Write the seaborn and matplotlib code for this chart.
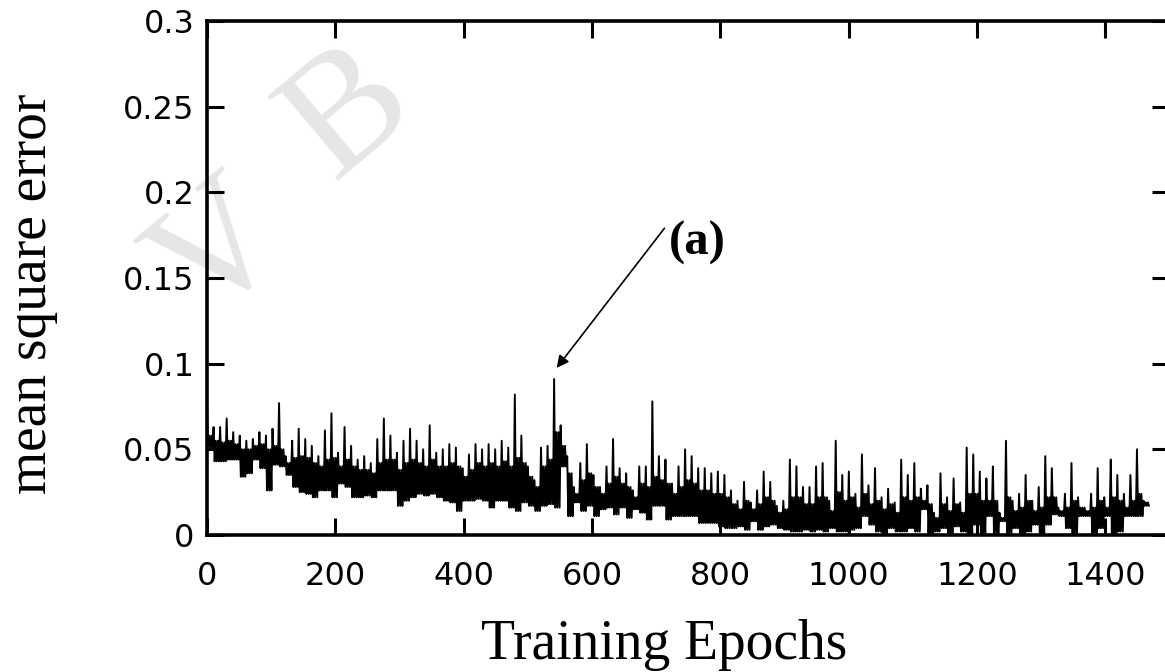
import numpy as np
import pandas as pd
import matplotlib
matplotlib.use("Agg")
import matplotlib.pyplot as plt
import seaborn as sns

# noisy MSE trace, one group per ~10 epochs:
# spike top, top of the dense band, bottom of the band
mse_high = [0.075, 0.063, 0.063, 0.068, 0.060, 0.058, 0.055, 0.056, 0.060, 0.058,
            0.062, 0.077, 0.046, 0.055, 0.062, 0.056, 0.052, 0.046, 0.061, 0.071,
            0.048, 0.063, 0.052, 0.044, 0.046, 0.042, 0.056, 0.068, 0.058, 0.048,
            0.055, 0.062, 0.055, 0.050, 0.064, 0.048, 0.050, 0.053, 0.051, 0.039,
            0.047, 0.053, 0.050, 0.053, 0.050, 0.055, 0.051, 0.082, 0.058, 0.040,
            0.032, 0.051, 0.052, 0.091, 0.064, 0.046, 0.028, 0.042, 0.053, 0.035,
            0.028, 0.040, 0.056, 0.039, 0.036, 0.026, 0.040, 0.040, 0.078, 0.046,
            0.044, 0.030, 0.040, 0.050, 0.046, 0.039, 0.039, 0.036, 0.037, 0.035,
            0.026, 0.020, 0.031, 0.019, 0.026, 0.037, 0.031, 0.017, 0.020, 0.044,
            0.040, 0.028, 0.028, 0.040, 0.042, 0.020, 0.055, 0.035, 0.037, 0.024,
            0.047, 0.029, 0.039, 0.022, 0.027, 0.019, 0.044, 0.035, 0.042, 0.027,
            0.029, 0.013, 0.036, 0.022, 0.033, 0.019, 0.051, 0.047, 0.037, 0.033,
            0.040, 0.013, 0.055, 0.020, 0.024, 0.035, 0.020, 0.028, 0.046, 0.039,
            0.016, 0.024, 0.042, 0.022, 0.016, 0.024, 0.039, 0.022, 0.044, 0.035,
            0.024, 0.035, 0.050, 0.020]
mse_band = [0.058, 0.055, 0.054, 0.055, 0.053, 0.050, 0.050, 0.052, 0.053, 0.050,
            0.052, 0.050, 0.042, 0.045, 0.046, 0.045, 0.042, 0.040, 0.044, 0.045,
            0.040, 0.044, 0.040, 0.038, 0.038, 0.036, 0.042, 0.044, 0.044, 0.038,
            0.042, 0.044, 0.042, 0.040, 0.044, 0.040, 0.040, 0.042, 0.040, 0.034,
            0.038, 0.042, 0.040, 0.042, 0.040, 0.043, 0.040, 0.045, 0.042, 0.034,
            0.028, 0.040, 0.044, 0.060, 0.052, 0.036, 0.024, 0.032, 0.036, 0.028,
            0.024, 0.030, 0.034, 0.030, 0.028, 0.022, 0.030, 0.028, 0.034, 0.032,
            0.030, 0.024, 0.028, 0.032, 0.030, 0.026, 0.026, 0.024, 0.024, 0.022,
            0.018, 0.015, 0.020, 0.015, 0.018, 0.022, 0.020, 0.013, 0.015, 0.022,
            0.022, 0.018, 0.018, 0.022, 0.022, 0.014, 0.025, 0.020, 0.022, 0.016,
            0.024, 0.018, 0.020, 0.015, 0.018, 0.013, 0.022, 0.020, 0.022, 0.020,
            0.018, 0.010, 0.018, 0.014, 0.018, 0.013, 0.024, 0.024, 0.020, 0.020,
            0.020, 0.010, 0.022, 0.014, 0.016, 0.020, 0.014, 0.016, 0.022, 0.022,
            0.014, 0.016, 0.020, 0.016, 0.014, 0.016, 0.020, 0.016, 0.022, 0.020,
            0.016, 0.020, 0.024, 0.019]
mse_low = [0.051, 0.043, 0.043, 0.044, 0.044, 0.034, 0.036, 0.044, 0.039, 0.026,
           0.041, 0.040, 0.035, 0.028, 0.025, 0.024, 0.022, 0.026, 0.026, 0.022,
           0.030, 0.028, 0.022, 0.022, 0.023, 0.022, 0.026, 0.026, 0.026, 0.017,
           0.020, 0.022, 0.024, 0.023, 0.024, 0.022, 0.020, 0.019, 0.014, 0.020,
           0.020, 0.021, 0.020, 0.016, 0.020, 0.020, 0.016, 0.014, 0.019, 0.017,
           0.014, 0.017, 0.018, 0.016, 0.040, 0.011, 0.019, 0.014, 0.017, 0.011,
           0.015, 0.016, 0.012, 0.016, 0.010, 0.015, 0.013, 0.009, 0.017, 0.017,
           0.009, 0.011, 0.011, 0.011, 0.011, 0.007, 0.007, 0.007, 0.005, 0.004,
           0.004, 0.005, 0.003, 0.008, 0.003, 0.005, 0.006, 0.004, 0.003, 0.002,
           0.002, 0.003, 0.002, 0.003, 0.002, 0.004, 0.002, 0.002, 0.003, 0.004,
           0.011, 0.006, 0.002, 0.001, 0.004, 0.002, 0.002, 0.004, 0.002, 0.015,
           0.001, 0.002, 0.004, 0.001, 0.005, 0.002, 0.001, 0.006, 0.001, 0.011,
           0.001, 0.008, 0.001, 0.004, 0.001, 0.002, 0.006, 0.001, 0.006, 0.012,
           0.011, 0.004, 0.001, 0.011, 0.011, 0.001, 0.004, 0.011, 0.001, 0.002,
           0.011, 0.011, 0.011, 0.017]
last_epoch = 1470

x_ticks = [0, 200, 400, 600, 800, 1000, 1200, 1400]
y_ticks = [0, 0.05, 0.1, 0.15, 0.2, 0.25, 0.3]
y_ticklabels = ["0", "0.05", "0.1", "0.15", "0.2", "0.25", "0.3"]


def buildSeries():
    n = len(mse_high)
    step = last_epoch / n
    ep = []
    val = []
    for i in range(n):
        # spike, then the band oscillating between its top and bottom
        group = [mse_high[i], mse_low[i], mse_band[i], mse_low[i], mse_band[i], mse_low[i]]
        for j, v in enumerate(group):
            ep.append((i + j / len(group)) * step)
            val.append(v)
    return pd.DataFrame({"epoch": ep, "mse": val})


def plotMSE(df):
    sns.set_style("ticks")
    fig = plt.figure(figsize=(11.65, 6.72), dpi=100)
    ax = fig.add_axes([0.1777, 0.2039, 0.826, 0.7649])
    ax.patch.set_alpha(0)

    # faint watermark letters behind the plot
    fig.text(0.30, 0.83, "B", fontsize=120, family="Liberation Serif", color="#e6e6e6",
             rotation=40, ha="center", va="center", zorder=-5)
    fig.text(0.19, 0.62, "V", fontsize=120, family="Liberation Serif", color="#e6e6e6",
             rotation=40, ha="center", va="center", zorder=-5)

    sns.lineplot(data=df, x="epoch", y="mse", ax=ax, color="black", linewidth=1.4,
                 estimator=None)

    ax.set_xlim(0, 1500)
    ax.set_ylim(0, 0.3)
    ax.set_xticks(x_ticks)
    ax.set_xticklabels([str(t) for t in x_ticks])
    ax.set_yticks(y_ticks)
    ax.set_yticklabels(y_ticklabels)
    ax.tick_params(direction="in", length=12, width=2.2, top=True, right=True,
                   labelsize=23, colors="black")
    ax.tick_params(axis="x", pad=19)
    ax.tick_params(axis="y", pad=9)
    for lab in ax.get_xticklabels() + ax.get_yticklabels():
        lab.set_family("DejaVu Sans")
    for s in ax.spines.values():
        s.set_linewidth(2.6)
        s.set_color("black")

    ax.set_xlabel("Training Epochs", fontsize=40, family="Liberation Serif", color="black")
    ax.set_ylabel("mean square error", fontsize=40, family="Liberation Serif", color="black")
    ax.xaxis.set_label_coords(0.475, -0.163)
    ax.yaxis.set_label_coords(-0.155, 0.47)

    ax.annotate("", xy=(545, 0.0975), xytext=(713, 0.179),
                arrowprops=dict(arrowstyle="-|>", color="black", lw=1.2,
                                mutation_scale=18, shrinkA=0, shrinkB=0))
    ax.text(720, 0.1705, "(a)", fontsize=35, fontweight="bold",
            family="Liberation Serif", ha="left", va="center", color="black")

    plt.savefig("out.png", dpi=100)


def main():
    df = buildSeries()
    plotMSE(df)


if __name__ == "__main__":
    main()
